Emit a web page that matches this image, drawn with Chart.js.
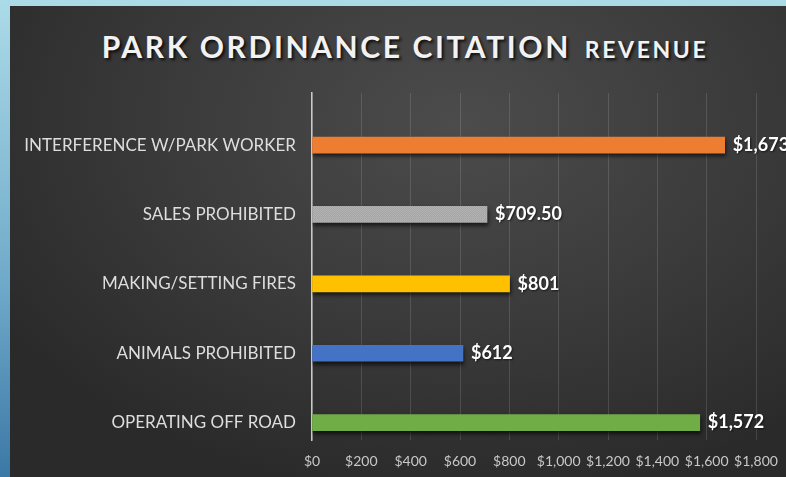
<!DOCTYPE html>
<html>
<head>
<meta charset="utf-8">
<script src="https://cdn.jsdelivr.net/npm/chart.js@4"></script>
<style>
  html, body { margin: 0; padding: 0; }
  body {
    width: 786px; height: 477px; overflow: hidden; position: relative;
    background: linear-gradient(to bottom, #acdbe8 0%, #6fa9c9 60%, #3c78a6 100%);
  }
  #panel {
    position: absolute; left: 10px; top: 6px; right: 0; bottom: 0;
    background: radial-gradient(ellipse 70% 80% at 58% 25%, #4c4c4c 0%, #3a3a3a 55%, #2a2a2a 100%);
  }
  #title {
    position: absolute; left: 0; top: 28px; width: 810px; text-align: center;
    font-family: Lato, "Open Sans", sans-serif; font-weight: 700; color: #f2f2f2;
    font-size: 30px; letter-spacing: 2.6px;
    text-shadow: 2px 2px 3px rgba(0,0,0,0.8);
  }
  #title .small { font-size: 23px; letter-spacing: 2.6px; margin-left: 14px; }
  canvas { position: absolute; left: 0; top: 0; }
</style>
</head>
<body>
<div id="panel"></div>
<div id="title">PARK ORDINANCE CITATION<span class="small">REVENUE</span></div>
<canvas id="citationChart" width="786" height="477"></canvas>
<script>
// categories, top to bottom
var categories = ['INTERFERENCE W/PARK WORKER', 'SALES PROHIBITED', 'MAKING/SETTING FIRES', 'ANIMALS PROHIBITED', 'OPERATING OFF ROAD'];
var revenue = [1673, 709.50, 801, 612, 1572];
var barColors = ['#ED7D31', 'pattern', '#FFC000', '#4472C4', '#70AD47'];
var xTicks = [0, 200, 400, 600, 800, 1000, 1200, 1400, 1600, 1800];

// fine grey texture like the original
var pc = document.createElement('canvas');
pc.width = 2; pc.height = 2;
var pctx = pc.getContext('2d');
pctx.fillStyle = '#b3b3b3'; pctx.fillRect(0, 0, 2, 2);
pctx.fillStyle = '#a2a2a2'; pctx.fillRect(1, 0, 1, 1);
pctx.fillStyle = '#a7a7a7'; pctx.fillRect(0, 1, 1, 1);
var ctx = document.getElementById('citationChart').getContext('2d');
var greyPattern = ctx.createPattern(pc, 'repeat');

function money(v) {
    var frac = v % 1 !== 0;
    return '$' + v.toLocaleString('en-US', {minimumFractionDigits: frac ? 2 : 0, maximumFractionDigits: 2});
}

// bar shadows
var shadowPlugin = {
    id: 'barShadow',
    beforeDatasetDraw: function(chart) {
        var c = chart.ctx;
        c.save();
        c.shadowColor = 'rgba(0,0,0,0.65)';
        c.shadowBlur = 4;
        c.shadowOffsetX = 1;
        c.shadowOffsetY = 3;
    },
    afterDatasetDraw: function(chart) {
        chart.ctx.restore();
    }
};

// value labels at bar ends
var valueLabels = {
    id: 'valueLabels',
    afterDatasetsDraw: function(chart) {
        var c = chart.ctx;
        var meta = chart.getDatasetMeta(0);
        c.save();
        c.font = 'bold 18px Lato, "Open Sans", sans-serif';
        c.fillStyle = '#ffffff';
        c.textAlign = 'left';
        c.textBaseline = 'middle';
        c.shadowColor = 'rgba(0,0,0,0.6)';
        c.shadowBlur = 2;
        c.shadowOffsetX = 1;
        c.shadowOffsetY = 1;
        meta.data.forEach(function(bar, i) {
            c.fillText(money(revenue[i]), bar.x + 8, bar.y);
        });
        c.restore();
    }
};

var citationChart = new Chart(ctx, {
    type: 'bar',
    data: {
        datasets: [{
            data: revenue.map(function(v, i) { return {x: v, y: i}; }),
            backgroundColor: barColors.map(function(c) { return c === 'pattern' ? greyPattern : c; }),
            borderWidth: 0,
            barThickness: 16
        }]
    },
    plugins: [shadowPlugin, valueLabels],
    options: {
        indexAxis: 'y',
        responsive: false,
        animation: false,
        events: [],
        layout: { padding: { left: 10, top: 93, right: 30, bottom: 0 } },
        plugins: {
            legend: { display: false },
            tooltip: { enabled: false }
        },
        scales: {
            x: {
                type: 'linear',
                min: 0,
                max: 1800,
                afterBuildTicks: function(scale) {
                    scale.ticks = xTicks.map(function(v) { return {value: v}; });
                },
                afterFit: function(scale) {
                    scale.height = 37;
                    scale.paddingRight = 0;
                },
                grid: { color: 'rgba(255,255,255,0.13)', lineWidth: 1, drawTicks: false },
                border: { display: false },
                ticks: {
                    color: '#c8c8c8',
                    padding: 13,
                    autoSkip: false,
                    maxRotation: 0,
                    minRotation: 0,
                    font: { family: 'Lato, "Open Sans", sans-serif', size: 14 },
                    callback: function(v) { return money(v); }
                }
            },
            y: {
                type: 'linear',
                reverse: true,
                offset: false,
                min: -0.75,
                max: 4.25,
                afterBuildTicks: function(scale) {
                    scale.ticks = categories.map(function(c, i) { return {value: i}; });
                    scale.min = -0.75;
                    scale.max = 4.25;
                },
                afterFit: function(scale) { scale.width = 302; },
                grid: { display: false, drawTicks: false },
                border: { display: true, color: '#c9c9c9', width: 1.5 },
                ticks: {
                    color: '#dedede',
                    padding: 16,
                    font: { family: 'Lato, "Open Sans", sans-serif', size: 17 },
                    callback: function(v) { return categories[v]; }
                }
            }
        }
    }
});
</script>
</body>
</html>
